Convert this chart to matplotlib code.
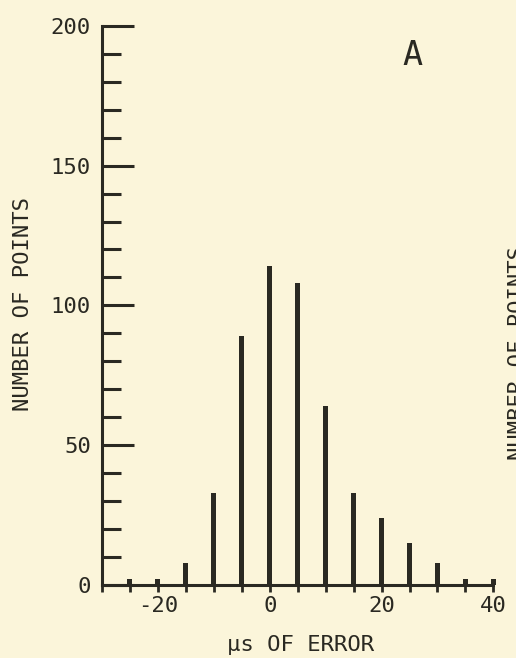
import matplotlib.pyplot as plt
from matplotlib.ticker import MultipleLocator

# error bins (microseconds) and counts
error_us = [-25, -20, -15, -10, -5, 0, 5, 10, 15, 20, 25, 30, 35, 40]
counts = [2, 2, 8, 33, 89, 114, 108, 64, 33, 24, 15, 8, 2, 2]
x_ticks = [-20, 0, 20, 40]
x_labels = ['-20', '0', '20', '40']
y_ticks = [0, 50, 100, 150, 200]

bg = '#fbf5da'
ink = '#2a2922'
font = 'DejaVu Sans Mono'

fig = plt.figure(figsize=(5.16, 6.58), dpi=100, facecolor=bg)
ax = fig.add_axes([102/516, 73/658, 397/516, 562/658])
ax.set_facecolor(bg)

ax.bar(error_us, counts, width=0.9, color=ink, zorder=3)

ax.set_xlim(-30, 41)
ax.set_ylim(0, 201)
ax.spines['top'].set_visible(False)
ax.spines['right'].set_visible(False)
ax.spines['left'].set_bounds(0, 200)
ax.spines['bottom'].set_bounds(-30, 40)
for s in ('left', 'bottom'):
    ax.spines[s].set_linewidth(2.2)
    ax.spines[s].set_color(ink)

ax.set_yticks(y_ticks)
ax.yaxis.set_minor_locator(MultipleLocator(10))
ax.tick_params(axis='y', which='major', direction='in', length=23, width=2.2,
               color=ink, pad=8, labelsize=16, labelcolor=ink)
ax.tick_params(axis='y', which='minor', direction='in', length=14, width=2.2,
               color=ink)

ax.set_xticks(x_ticks)
ax.set_xticklabels(x_labels)
ax.xaxis.set_minor_locator(MultipleLocator(5))
ax.tick_params(axis='x', which='both', direction='out', length=5, width=2,
               color=ink, pad=3, labelsize=16, labelcolor=ink)

for lab in ax.get_xticklabels() + ax.get_yticklabels():
    lab.set_family(font)

ax.set_xlabel('\u03bcs OF ERROR', family=font, fontsize=16, color=ink)
ax.set_ylabel('NUMBER OF POINTS', family=font, fontsize=16, color=ink)
ax.xaxis.set_label_coords(0.5, -0.107)
ax.yaxis.set_label_coords(-0.20, 0.5)
ax.xaxis.label.set_va('center')
ax.yaxis.label.set_va('center')

ax.text(0.781, 0.943, 'A', transform=ax.transAxes, family=font, fontsize=24,
        color=ink, ha='center', va='center')

# clipped label of the neighbouring panel at the right edge
fig.text(518/516, 305/658, 'NUMBER OF POINTS', rotation=90, family=font,
         fontsize=16, color=ink, ha='center', va='center')

fig.savefig('out.png', dpi=100, facecolor=bg)
